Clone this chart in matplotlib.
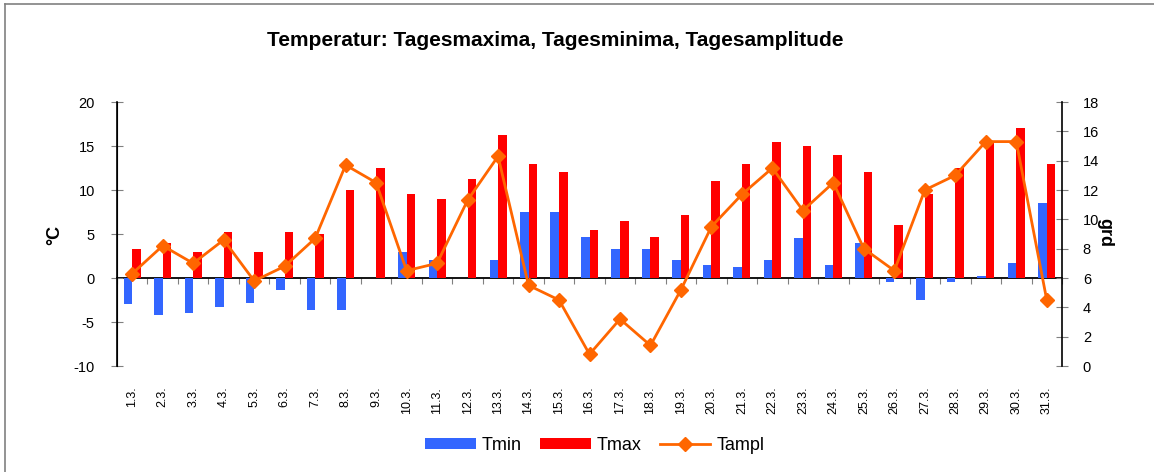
import matplotlib
matplotlib.use('Agg')
import matplotlib.pyplot as plt
from matplotlib.lines import Line2D
import numpy as np

plt.rcParams['font.family'] = ['Liberation Sans', 'DejaVu Sans']
plt.rcParams['axes.unicode_minus'] = False

# Daten: März, Tagesminimum / Tagesmaximum (°C), Tagesamplitude (grd)
days = [f'{i}.3.' for i in range(1, 32)]
tmin = [-3.0, -4.2, -4.0, -3.3, -2.8, -1.4, -3.6, -3.6, 0.0, 3.0,
        2.0, 0.0, 2.0, 7.5, 7.5, 4.7, 3.3, 3.3, 2.0, 1.5,
        1.2, 2.0, 4.5, 1.5, 4.0, -0.4, -2.5, -0.4, 0.2, 1.7, 8.5]
tmax = [3.3, 4.0, 3.0, 5.2, 3.0, 5.2, 5.0, 10.0, 12.5, 9.5,
        9.0, 11.3, 16.3, 13.0, 12.0, 5.5, 6.5, 4.7, 7.2, 11.0,
        13.0, 15.5, 15.0, 14.0, 12.0, 6.0, 9.5, 12.5, 15.5, 17.0, 13.0]
tampl = [6.3, 8.2, 7.0, 8.6, 5.8, 6.8, 8.7, 13.7, 12.5, 6.5,
         7.0, 11.3, 14.3, 5.5, 4.5, 0.8, 3.2, 1.4, 5.2, 9.5,
         11.7, 13.5, 10.6, 12.5, 8.0, 6.5, 12.0, 13.0, 15.3, 15.3, 4.5]

fig = plt.figure(figsize=(11.54, 4.72), dpi=100)
ax = fig.add_axes([117/1154, 1-366/472, (1062-117)/1154, (366-102)/472])
ax2 = ax.twinx()

x = np.arange(len(days))
w = 0.28
b1 = ax.bar(x - w/2, tmin, w, color='#3366FF', label='Tmin', zorder=2)
b2 = ax.bar(x + w/2, tmax, w, color='#FF0000', label='Tmax', zorder=2)
l1, = ax2.plot(x, tampl, color='#FF6600', lw=2, marker='D', ms=7,
               label='Tampl', zorder=3)

ax.set_xlim(-0.5, len(days) - 0.5)
ax.set_ylim(-10, 20)
ax.set_yticks(range(-10, 21, 5))
ax2.set_ylim(0, 18)
ax2.set_yticks(range(0, 19, 2))

# category labels at the bottom, no tick marks
ax.set_xticks(x)
ax.set_xticklabels(days, rotation=90, fontsize=9)
ax.tick_params(axis='x', length=0, pad=15)
for s in ['top', 'bottom']:
    ax.spines[s].set_visible(False)
    ax2.spines[s].set_visible(False)
ax.spines['right'].set_visible(False)

# zero line with category separator ticks
sec = ax.secondary_xaxis(1/3)
sec.set_xticks(np.arange(-0.5, len(days), 1))
sec.set_xticklabels([])
sec.tick_params(direction='out', length=4, color='#808080')
sec.spines['bottom'].set_linewidth(1.3)

ax.tick_params(axis='y', direction='inout', length=8, color='#808080',
               labelsize=10.5, pad=12)
ax2.tick_params(axis='y', direction='inout', length=8, color='#808080',
                labelsize=10.5, pad=11)
ax.spines['left'].set_linewidth(1.2)
ax2.spines['right'].set_linewidth(1.2)

fig.text(55/1154, 1-235/472, '°C', rotation=90, fontsize=13,
         fontweight='bold', ha='center', va='center')
fig.text(1105/1154, 1-232/472, 'grd', rotation=270, fontsize=13,
         fontweight='bold', ha='center', va='center')
fig.text(555/1154, 1-40/472, 'Temperatur: Tagesmaxima, Tagesminima, Tagesamplitude',
         fontsize=15, fontweight='bold', ha='center', va='center')

fig.legend([b1, b2, l1], ['Tmin', 'Tmax', 'Tampl'], loc='center',
           bbox_to_anchor=(595/1154, 1-445/472), ncol=3, frameon=False,
           fontsize=13, handlelength=2.8, handleheight=0.55,
           columnspacing=1.0, handletextpad=0.35)

# chart frame edges
fig.add_artist(Line2D([5/1154, 1], [1-4/472, 1-4/472], color='#808080', lw=1.2))
fig.add_artist(Line2D([5/1154, 5/1154], [0, 1-4/472], color='#808080', lw=1.2))

fig.savefig('out.png', dpi=100)
